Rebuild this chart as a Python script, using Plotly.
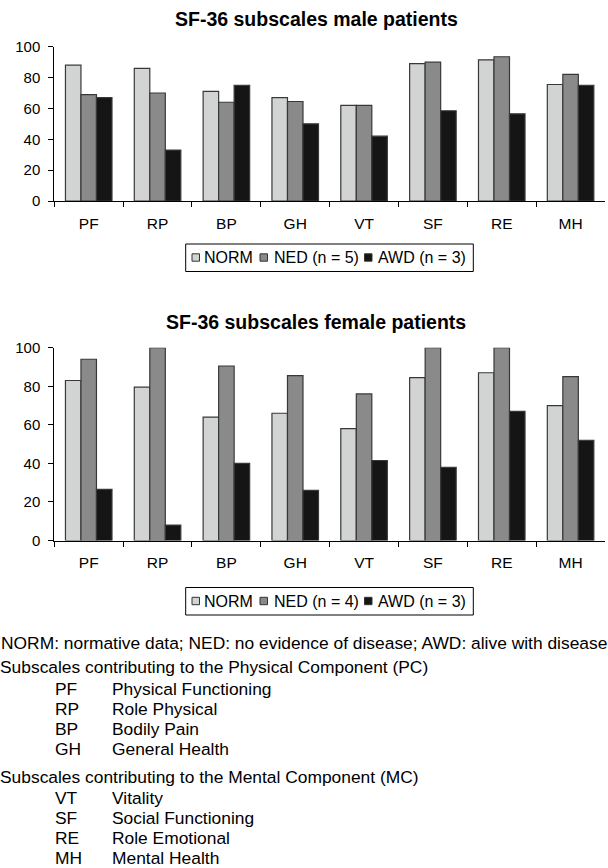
import plotly.graph_objects as go

W, H = 608, 868
def X(px): return px / W
def Y(py): return 1 - py / H

categories = ["PF", "RP", "BP", "GH", "VT", "SF", "RE", "MH"]
male_norm = [88, 86, 71, 67, 62, 89, 91.5, 75.5]
male_ned = [69, 70, 64, 64.5, 62, 90, 93.5, 82]
male_awd = [67, 33, 75, 50, 42, 58.5, 56.5, 75]
female_norm = [83, 79.5, 64, 66, 58, 84.5, 87, 70]
female_ned = [94, 100, 90.5, 85.5, 76, 100, 100, 85]
female_awd = [26.5, 8, 40, 26, 41.5, 38, 67, 52]
male_names = ["NORM", "NED (n = 5)", "AWD (n = 3)"]
female_names = ["NORM", "NED (n = 4)", "AWD (n = 3)"]
colors = ["#d1d4d2", "#8a8a8a", "#151515"]
titles = ["SF-36 subscales male patients", "SF-36 subscales female patients"]
footnote = "NORM: normative data; NED: no evidence of disease; AWD: alive with disease"
pc_header = "Subscales contributing to the Physical Component (PC)"
mc_header = "Subscales contributing to the Mental Component (MC)"
pc_items = [("PF", "Physical Functioning"), ("RP", "Role Physical"),
            ("BP", "Bodily Pain"), ("GH", "General Health")]
mc_items = [("VT", "Vitality"), ("SF", "Social Functioning"),
            ("RE", "Role Emotional"), ("MH", "Mental Health")]

FONT = "Liberation Sans, Arial, sans-serif"
fig = go.Figure()
for xa, ya, series, names in [("x", "y", [male_norm, male_ned, male_awd], male_names),
                              ("x2", "y2", [female_norm, female_ned, female_awd], female_names)]:
    for vals, nm, c in zip(series, names, colors):
        fig.add_trace(go.Bar(x=categories, y=vals, name=nm, xaxis=xa, yaxis=ya,
                             marker=dict(color=c, line=dict(color="#383838", width=1.2)),
                             showlegend=False))

xcommon = dict(domain=[X(54.3), X(605)], showline=True, linecolor="black", linewidth=1,
               ticks="outside", tickson="boundaries", ticklen=5, tickcolor="black",
               showgrid=False, zeroline=False, tickfont=dict(size=15.5, color="black"),
               ticklabelstandoff=8, automargin=False)
ycommon = dict(range=[0, 100], dtick=20, showline=True, linecolor="black", linewidth=1,
               ticks="outside", ticklen=5, tickcolor="black", showgrid=False, zeroline=False,
               tickfont=dict(size=15, color="black"), ticklabelstandoff=5, automargin=False)

annotations = []
shapes = []
plot_specs = [(201, 46.7, 18.8, 257.5), (540.5, 347.7, 321.7, 601)]
for i, ((ybot, ytop, ty, ly), title, names) in enumerate(zip(plot_specs, titles, [male_names, female_names])):
    annotations.append(dict(text="<b>" + title + "</b>", x=X(316), y=Y(ty), xref="paper", yref="paper",
                            xanchor="center", yanchor="middle", showarrow=False,
                            font=dict(size=19.5, color="black", family=FONT)))
    shapes.append(dict(type="rect", xref="paper", yref="paper", x0=X(185.7), x1=X(473.3),
                       y0=Y(ly + 14), y1=Y(ly - 13.5), line=dict(color="black", width=1),
                       fillcolor="white", layer="below"))
    for nm, c, sx, tx in zip(names, colors, [192, 260, 364.5], [202, 272, 376.5]):
        shapes.append(dict(type="rect", xref="paper", yref="paper", x0=X(sx), x1=X(sx + 7.5),
                           y0=Y(ly + 3.7), y1=Y(ly - 3.7), fillcolor=c,
                           line=dict(color="#333333", width=1)))
        annotations.append(dict(text=nm, x=X(tx), y=Y(ly), xref="paper", yref="paper",
                                xanchor="left", yanchor="middle", showarrow=False,
                                font=dict(size=16, color="black", family=FONT)))

TS = 17.4
def txt(s, px, py):
    annotations.append(dict(text=s, x=X(px), y=Y(py), xref="paper", yref="paper",
                            xanchor="left", yanchor="middle", showarrow=False,
                            font=dict(size=TS, color="black", family=FONT)))

txt(footnote, -1, 642.5)
txt(pc_header, -2, 667)
for k, (code, desc) in enumerate(pc_items):
    txt(code, 53, 688.5 + 20.2 * k)
    txt(desc, 110, 688.5 + 20.2 * k)
txt(mc_header, -2, 777)
for k, (code, desc) in enumerate(mc_items):
    txt(code, 53, 797.5 + 20 * k)
    txt(desc, 110, 797.5 + 20 * k)

fig.update_layout(
    template="none",
    width=W, height=H, margin=dict(l=0, r=0, t=0, b=0, autoexpand=False),
    paper_bgcolor="white", plot_bgcolor="white",
    font=dict(family=FONT, color="black"),
    barmode="group", bargap=0.324, bargroupgap=0,
    showlegend=False,
    xaxis=dict(anchor="y", **xcommon),
    yaxis=dict(anchor="x", domain=[Y(201), Y(46.7)], **ycommon),
    xaxis2=dict(anchor="y2", **xcommon),
    yaxis2=dict(anchor="x2", domain=[Y(540.5), Y(347.7)], **ycommon),
    annotations=annotations, shapes=shapes,
)
fig.write_html("out.html", config={"displayModeBar": False},
               post_script="document.body.style.margin='0';document.body.style.overflow='hidden';")
